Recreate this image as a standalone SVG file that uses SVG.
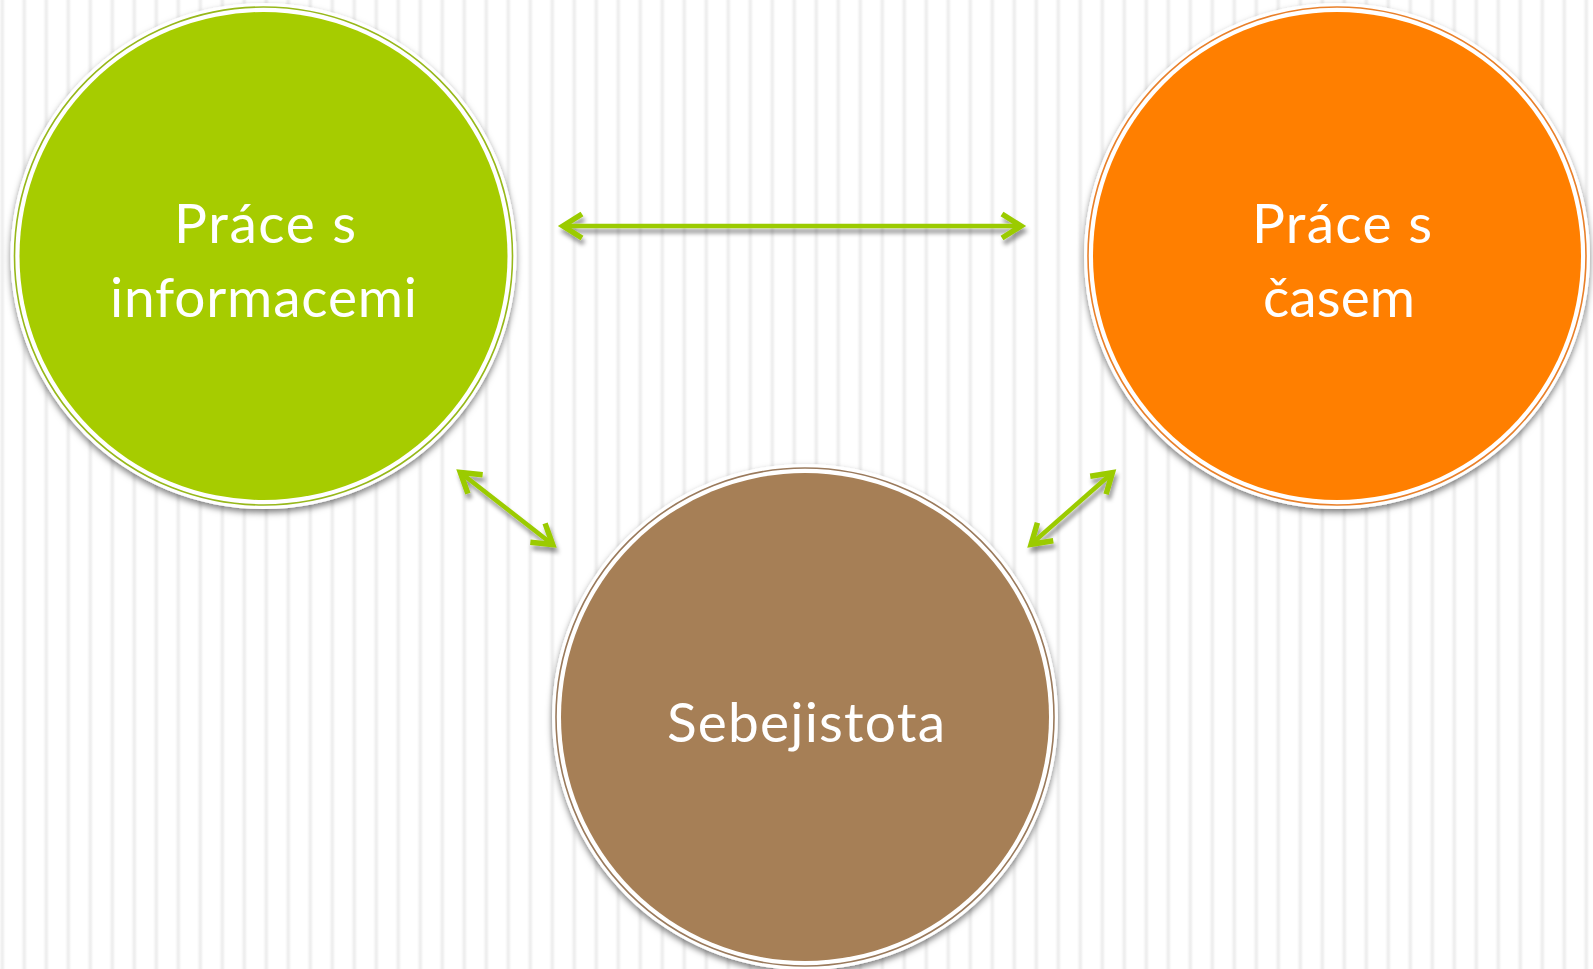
<svg xmlns="http://www.w3.org/2000/svg" width="1593" height="969" viewBox="0 0 1593 969">
  <defs>
    <linearGradient id="stripeGrad" x1="0" y1="0" x2="1" y2="0">
      <stop offset="0" stop-color="#ffffff"/>
      <stop offset="0.36" stop-color="#ffffff"/>
      <stop offset="0.5" stop-color="#ebebeb"/>
      <stop offset="0.64" stop-color="#ffffff"/>
      <stop offset="1" stop-color="#ffffff"/>
    </linearGradient>
    <pattern id="stripes" x="-8.7" y="0" width="22" height="969" patternUnits="userSpaceOnUse">
      <rect x="0" y="0" width="22" height="969" fill="url(#stripeGrad)"/>
    </pattern>
    <filter id="circleShadow" x="-10%" y="-10%" width="120%" height="125%">
      <feDropShadow dx="0" dy="3.5" stdDeviation="3.2" flood-color="#000000" flood-opacity="0.5"/>
    </filter>
    <filter id="arrowShadow" x="-20%" y="-50%" width="140%" height="200%">
      <feDropShadow dx="2" dy="5" stdDeviation="2.2" flood-color="#000000" flood-opacity="0.4"/>
    </filter>
    <marker id="chev" markerUnits="userSpaceOnUse" orient="auto-start-reverse" refX="0" refY="0" markerWidth="40" markerHeight="40" viewBox="-30 -20 40 40" overflow="visible">
      <path d="M-19,-12 L0,0 L-19,12" fill="none" stroke="#9bcb05" stroke-width="5.5" stroke-linejoin="miter" stroke-miterlimit="10"/>
    </marker>
    <style>
      .ring { fill: #ffffff; filter: url(#circleShadow); }
      .label { font-family: Lato, "Noto Sans", "DejaVu Sans", sans-serif; font-size: 55px; fill: #ffffff; text-anchor: middle; }
      .conn { stroke: #9bcb05; stroke-width: 4.5; fill: none; marker-start: url(#chev); marker-end: url(#chev); }
    </style>
  </defs>

  <rect x="0" y="0" width="1593" height="969" fill="url(#stripes)"/>

  <g id="node-informace">
    <circle class="ring" cx="263.5" cy="256" r="253"/>
    <circle cx="263.5" cy="256" r="249" fill="none" stroke="#97b81a" stroke-width="1.6"/>
    <circle cx="263.5" cy="256" r="244" fill="#a6cc00"/>
    <text class="label" x="265" y="243" textLength="182" lengthAdjust="spacing">Práce s</text>
    <text class="label" x="263.5" y="316.5" textLength="307" lengthAdjust="spacing">informacemi</text>
  </g>

  <g id="node-cas">
    <circle class="ring" cx="1337" cy="256" r="253"/>
    <circle cx="1337" cy="256" r="249" fill="none" stroke="#e9802a" stroke-width="1.6"/>
    <circle cx="1337" cy="256" r="244" fill="#ff7f00"/>
    <text class="label" x="1342" y="243" textLength="180" lengthAdjust="spacing">Práce s</text>
    <text class="label" x="1339" y="316.5" textLength="152" lengthAdjust="spacing">časem</text>
  </g>

  <g id="node-sebejistota">
    <circle class="ring" cx="805" cy="717" r="253"/>
    <circle cx="805" cy="717" r="249" fill="none" stroke="#9a7a5c" stroke-width="1.6"/>
    <circle cx="805" cy="717" r="244" fill="#a67f56"/>
    <text class="label" x="806" y="741.5" textLength="278" lengthAdjust="spacing">Sebejistota</text>
  </g>

  <g id="connectors" filter="url(#arrowShadow)">
    <line class="conn" x1="563" y1="226" x2="1021" y2="226"/>
    <line class="conn" x1="460.3" y1="472.5" x2="552.7" y2="544.5"/>
    <line class="conn" x1="1112.4" y1="472.7" x2="1031.1" y2="544.3"/>
  </g>
</svg>
